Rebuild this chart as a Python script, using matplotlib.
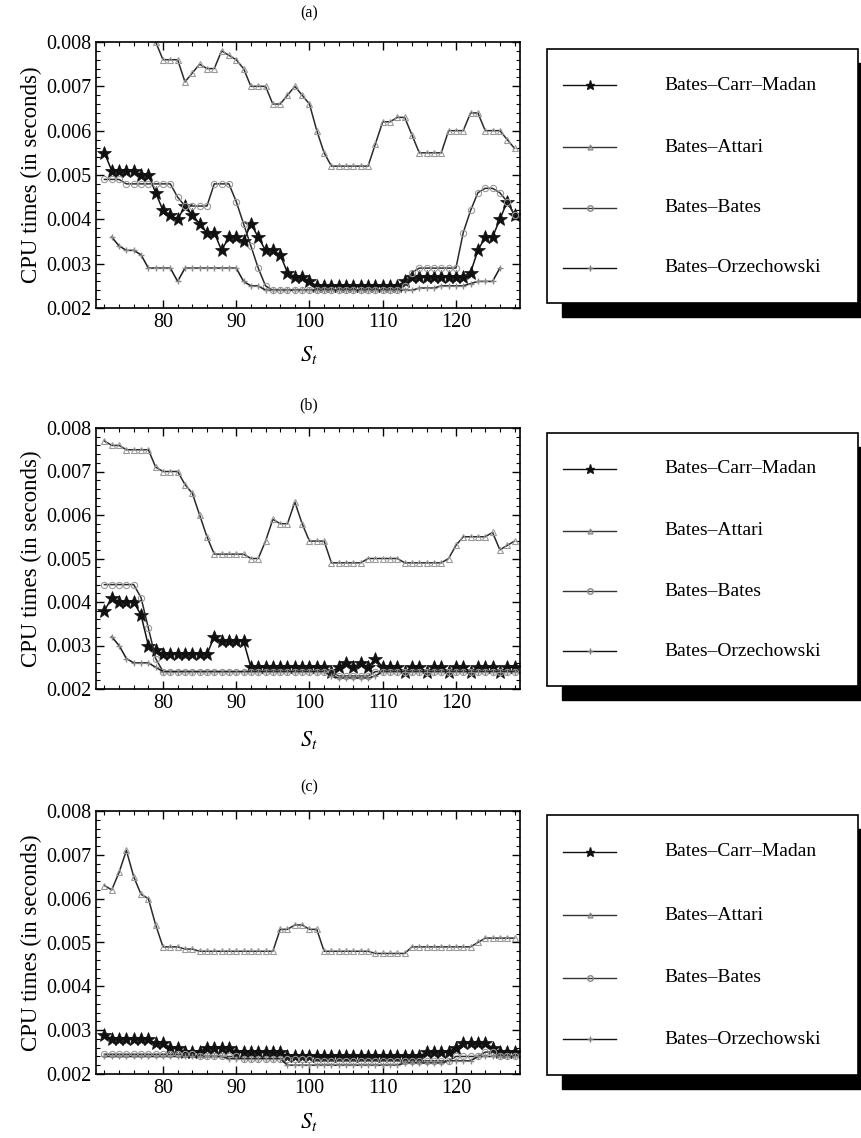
import numpy as np
import matplotlib
matplotlib.use("Agg")
import matplotlib.pyplot as plt
from matplotlib.ticker import MultipleLocator, FormatStrFormatter
from matplotlib.patches import Rectangle

plt.rcParams['font.family'] = ['Liberation Serif', 'DejaVu Serif']
plt.rcParams['mathtext.fontset'] = 'stix'

nan = np.nan
S = list(range(72, 129))

names = ["Bates\u2013Carr\u2013Madan", "Bates\u2013Attari", "Bates\u2013Bates", "Bates\u2013Orzechowski"]
panel_titles = ["(a)", "(b)", "(c)"]

# ---- panel (a) ----
a_carr = [0.0055, 0.0051, 0.0051, 0.0051, 0.0051, 0.0050, 0.0050, 0.0046, 0.0042, 0.0041,
          0.0040, 0.0043, 0.0041, 0.0039, 0.0037, 0.0037, 0.0033, 0.0036, 0.0036, 0.0035,
          0.0039, 0.0036, 0.0033, 0.0033, 0.0032, 0.0028, 0.0027, 0.0027, 0.0026, 0.0025,
          0.0025, 0.0025, 0.0025, 0.0025, 0.0025, 0.0025, 0.0025, 0.0025, 0.0025, 0.0025,
          0.0025, 0.0026, 0.0027, 0.0027, 0.0027, 0.0027, 0.0027, 0.0027, 0.0027, 0.0027,
          0.0028, 0.0033, 0.0036, 0.0036, 0.0040, 0.0044, 0.0041]
a_attari = [0.0092, 0.0091, 0.0090, 0.0089, 0.0088, 0.0086, 0.0084, 0.0080, 0.0076, 0.0076,
            0.0076, 0.0071, 0.0073, 0.0075, 0.0074, 0.0074, 0.0078, 0.0077, 0.0076, 0.0074,
            0.0070, 0.0070, 0.0070, 0.0066, 0.0066, 0.0068, 0.0070, 0.0068, 0.0066, 0.0060,
            0.0055, 0.0052, 0.0052, 0.0052, 0.0052, 0.0052, 0.0052, 0.0057, 0.0062, 0.0062,
            0.0063, 0.0063, 0.0059, 0.0055, 0.0055, 0.0055, 0.0055, 0.0060, 0.0060, 0.0060,
            0.0064, 0.0064, 0.0060, 0.0060, 0.0060, 0.0058, 0.0056]
a_bates = [0.0049, 0.0049, 0.0049, 0.0048, 0.0048, 0.0048, 0.0048, 0.0048, 0.0048, 0.0048,
           0.0045, 0.0043, 0.0043, 0.0043, 0.0043, 0.0048, 0.0048, 0.0048, 0.0044, 0.0039,
           0.0034, 0.0029, 0.0025, 0.0024, 0.0024, 0.0024, 0.0024, 0.0024, 0.0024, 0.0024,
           0.0024, 0.0024, 0.0024, 0.0024, 0.0024, 0.0024, 0.0024, 0.0024, 0.0024, 0.0024,
           0.0024, 0.0025, 0.0028, 0.0029, 0.0029, 0.0029, 0.0029, 0.0029, 0.0029, 0.0037,
           0.0042, 0.0046, 0.0047, 0.0047, 0.0046, 0.0044, 0.0041]
a_orz = [nan, 0.0036, 0.0034, 0.0033, 0.0033, 0.0032, 0.0029, 0.0029, 0.0029, 0.0029,
         0.0026, 0.0029, 0.0029, 0.0029, 0.0029, 0.0029, 0.0029, 0.0029, 0.0029, 0.0026,
         0.0025, 0.0025, 0.0024, 0.0024, 0.0024, 0.0024, 0.0024, 0.0024, 0.0024, 0.0024,
         0.0024, 0.0024, 0.0024, 0.0024, 0.0024, 0.0024, 0.0024, 0.0024, 0.0024, 0.0024,
         0.0024, 0.0024, 0.0024, 0.00245, 0.00245, 0.00245, 0.0025, 0.0025, 0.0025, 0.0025,
         0.00255, 0.0026, 0.0026, 0.0026, 0.0029, nan, nan]

# ---- panel (b) ----
b_carr = [0.0038, 0.0041, 0.0040, 0.0040, 0.0040, 0.0037, 0.0030, 0.0029, 0.0028, 0.0028,
          0.0028, 0.0028, 0.0028, 0.0028, 0.0028, 0.0032, 0.0031, 0.0031, 0.0031, 0.0031,
          0.0025, 0.0025, 0.0025, 0.0025, 0.0025, 0.0025, 0.0025, 0.0025, 0.0025, 0.0025,
          0.0025, 0.0024, 0.0025, 0.0026, 0.0025, 0.0026, 0.0025, 0.0027, 0.0025, 0.0025,
          0.0025, 0.0024, 0.0025, 0.0025, 0.0024, 0.0025, 0.0025, 0.0024, 0.0025, 0.0025,
          0.0024, 0.0025, 0.0025, 0.0025, 0.0024, 0.0025, 0.0025]
b_attari = [0.0077, 0.0076, 0.0076, 0.0075, 0.0075, 0.0075, 0.0075, 0.0071, 0.0070, 0.0070,
            0.0070, 0.0067, 0.0065, 0.0060, 0.0055, 0.0051, 0.0051, 0.0051, 0.0051, 0.0051,
            0.0050, 0.0050, 0.0054, 0.0059, 0.0058, 0.0058, 0.0063, 0.0058, 0.0054, 0.0054,
            0.0054, 0.0049, 0.0049, 0.0049, 0.0049, 0.0049, 0.0050, 0.0050, 0.0050, 0.0050,
            0.0050, 0.0049, 0.0049, 0.0049, 0.0049, 0.0049, 0.0049, 0.0050, 0.0053, 0.0055,
            0.0055, 0.0055, 0.0055, 0.0056, 0.0052, 0.0053, 0.0054]
b_bates = [0.0044, 0.0044, 0.0044, 0.0044, 0.0044, 0.0041, 0.0034, 0.0027, 0.0024, 0.0024,
           0.0024, 0.0024, 0.0024, 0.0024, 0.0024, 0.0024, 0.0024, 0.0024, 0.0024, 0.0024,
           0.0024, 0.0024, 0.0024, 0.0024, 0.0024, 0.0024, 0.0024, 0.0024, 0.0024, 0.0024,
           0.0024, 0.0024, 0.0023, 0.0023, 0.0023, 0.0023, 0.0023, 0.0024, 0.0024, 0.0024,
           0.0024, 0.0024, 0.0024, 0.0024, 0.0024, 0.0024, 0.0024, 0.0024, 0.0024, 0.0024,
           0.0024, 0.0024, 0.0024, 0.0024, 0.0024, 0.0024, 0.0024]
b_orz = [nan, 0.0032, 0.0030, 0.0027, 0.0026, 0.0026, 0.0026, 0.0025, 0.0024, 0.0024,
         0.0024, 0.0024, 0.0024, 0.0024, 0.0024, 0.0024, 0.0024, 0.0024, 0.0024, 0.0024,
         0.0024, 0.0024, 0.0024, 0.0024, 0.0024, 0.0024, 0.0024, 0.0024, 0.0024, 0.0024,
         0.0024, 0.0023, 0.00225, 0.00225, 0.00225, 0.00225, 0.00225, 0.0023, 0.0024, 0.0024,
         0.0024, 0.0024, 0.0024, 0.0024, 0.0024, 0.0024, 0.0024, 0.0024, 0.0024, 0.0024,
         0.0024, 0.0024, 0.0024, 0.0024, 0.0024, 0.0024, 0.0024]

# ---- panel (c) ----
c_carr = [0.0029, 0.0028, 0.0028, 0.0028, 0.0028, 0.0028, 0.0028, 0.0027, 0.0027, 0.0026,
          0.0026, 0.0025, 0.0025, 0.0025, 0.0026, 0.0026, 0.0026, 0.0026, 0.0025, 0.0025,
          0.0025, 0.0025, 0.0025, 0.0025, 0.0025, 0.0024, 0.0024, 0.0024, 0.0024, 0.0024,
          0.0024, 0.0024, 0.0024, 0.0024, 0.0024, 0.0024, 0.0024, 0.0024, 0.0024, 0.0024,
          0.0024, 0.0024, 0.0024, 0.0024, 0.0025, 0.0025, 0.0025, 0.0025, 0.0026, 0.0027,
          0.0027, 0.0027, 0.0027, 0.0026, 0.0025, 0.0025, 0.0025]
c_attari = [0.0063, 0.0062, 0.0066, 0.0071, 0.0065, 0.0061, 0.0060, 0.0054, 0.0049, 0.0049,
            0.0049, 0.00485, 0.00485, 0.0048, 0.0048, 0.0048, 0.0048, 0.0048, 0.0048, 0.0048,
            0.0048, 0.0048, 0.0048, 0.0048, 0.0053, 0.0053, 0.0054, 0.0054, 0.0053, 0.0053,
            0.0048, 0.0048, 0.0048, 0.0048, 0.0048, 0.0048, 0.0048, 0.00475, 0.00475, 0.00475,
            0.00475, 0.00475, 0.0049, 0.0049, 0.0049, 0.0049, 0.0049, 0.0049, 0.0049, 0.0049,
            0.0049, 0.0050, 0.0051, 0.0051, 0.0051, 0.0051, 0.0051]
c_bates = [0.00245, 0.00245, 0.00245, 0.00245, 0.00245, 0.00245, 0.00245, 0.00245, 0.00245, 0.00245,
           0.00245, 0.00245, 0.00245, 0.0024, 0.0024, 0.0024, 0.0024, 0.0024, 0.0024, 0.00235,
           0.00235, 0.00235, 0.00235, 0.00235, 0.00235, 0.00235, 0.00235, 0.00235, 0.00235, 0.0023,
           0.0023, 0.0023, 0.0023, 0.0023, 0.0023, 0.0023, 0.0023, 0.0023, 0.0023, 0.0023,
           0.0023, 0.0023, 0.0023, 0.0023, 0.0023, 0.0023, 0.0023, 0.0023, 0.0024, 0.0024,
           0.0024, 0.0024, 0.0025, 0.0025, 0.0024, 0.0024, 0.0024]
c_orz = [0.0024, 0.0024, 0.0024, 0.0024, 0.0024, 0.0024, 0.0024, 0.0024, 0.0024, 0.0024,
         0.0024, 0.0024, 0.0024, 0.0024, 0.0024, 0.0024, 0.0024, 0.00235, 0.00235, 0.00235,
         0.00235, 0.00235, 0.00235, 0.00235, 0.00235, 0.0022, 0.0022, 0.0022, 0.0022, 0.0022,
         0.0022, 0.0022, 0.0022, 0.0022, 0.0022, 0.0022, 0.0022, 0.0022, 0.0022, 0.0022,
         0.0022, 0.00225, 0.00225, 0.00225, 0.00225, 0.00225, 0.00225, 0.0023, 0.0023, 0.0023,
         0.0023, 0.0024, 0.0024, 0.0024, 0.0024, 0.0024, 0.0024]

panels = [(a_carr, a_attari, a_bates, a_orz),
          (b_carr, b_attari, b_bates, b_orz),
          (c_carr, c_attari, c_bates, c_orz)]

# styles: carr, attari, bates, orz
styles = [dict(color='#111111', lw=1.1, marker='*', ms=10, mfc='#111111', mec='#111111', mew=0.5),
          dict(color='#2a2a2a', lw=1.1, marker='^', ms=4, mfc='none', mec='#9a9a9a', mew=0.8),
          dict(color='#2a2a2a', lw=1.1, marker='o', ms=4.5, mfc='none', mec='#9a9a9a', mew=0.8),
          dict(color='#1a1a1a', lw=1.1, marker='+', ms=5, mec='#8a8a8a', mew=1.0)]
legend_styles = [dict(color='#111111', lw=1.0, marker='*', ms=6.5, mfc='#111111', mec='#111111'),
                 dict(color='#333333', lw=1.0, marker='^', ms=3.5, mfc='none', mec='#888888'),
                 dict(color='#333333', lw=1.0, marker='o', ms=4, mfc='none', mec='#888888'),
                 dict(color='#111111', lw=1.0, marker='+', ms=4, mec='#777777')]

W, H = 861, 1138
fig = plt.figure(figsize=(W / 100, H / 100), dpi=100)

# pixel boxes: axes (top, bottom), legend (top, bottom)
ax_rows = [(42, 308), (428, 689), (811, 1074)]
leg_rows = [(49, 303), (433, 686), (815, 1075)]
xlab_y = [355, 740, 1122]
ttl_y = [13, 405, 787]

for i, (series, (t, b), (lt, lb)) in enumerate(zip(panels, ax_rows, leg_rows)):
    ax = fig.add_axes([96 / W, 1 - b / H, 424 / W, (b - t) / H])
    for vals, st in zip(series, styles):
        ax.plot(S, vals, **st)
    ax.set_xlim(70.85, 128.75)
    ax.set_ylim(0.002, 0.008)
    ax.xaxis.set_major_locator(MultipleLocator(10))
    ax.xaxis.set_minor_locator(MultipleLocator(2))
    ax.yaxis.set_major_locator(MultipleLocator(0.001))
    ax.yaxis.set_minor_locator(MultipleLocator(0.0002))
    ax.yaxis.set_major_formatter(FormatStrFormatter('%.3f'))
    ax.tick_params(which='both', direction='in', top=True, right=True, labelsize=14.5)
    ax.tick_params(which='major', length=6, width=1)
    ax.tick_params(which='minor', length=3, width=0.8)
    for sp in ax.spines.values():
        sp.set_linewidth(1.2)
    ax.set_ylabel('CPU times (in seconds)', fontsize=16.5, labelpad=3)
    fig.text(309 / W, 1 - xlab_y[i] / H, r'$S_t$', fontsize=16, ha='center', va='center')
    fig.text(309 / W, 1 - ttl_y[i] / H, panel_titles[i], fontsize=11.5, ha='center', va='center')

    # legend box with solid drop shadow
    lax = fig.add_axes([547 / W, 1 - lb / H, 311 / W, (lb - lt) / H])
    lax.set_xlim(0, 1)
    lax.set_ylim(0, 1)
    lax.axis('off')
    dx = 15 / 311
    dy = 14 / (lb - lt)
    lax.add_patch(Rectangle((dx, -dy), 1, 1, facecolor='black', edgecolor='black', clip_on=False, zorder=1))
    lax.add_patch(Rectangle((0, 0), 1, 1, facecolor='white', edgecolor='black', lw=1.2, clip_on=False, zorder=2))
    rows = [36, 98, 159, 219]
    for name, st, r in zip(names, legend_styles, rows):
        yy = 1 - r / 254
        lax.plot([0.051, 0.222], [yy, yy], color=st['color'], lw=st['lw'], zorder=3)
        lax.plot([0.137], [yy], linestyle='none',
                 **{k: v for k, v in st.items() if k not in ('color', 'lw')}, zorder=4)
        lax.text(0.379, yy, name, fontsize=14, va='center', ha='left', zorder=4)

fig.savefig('out.png', dpi=100)
